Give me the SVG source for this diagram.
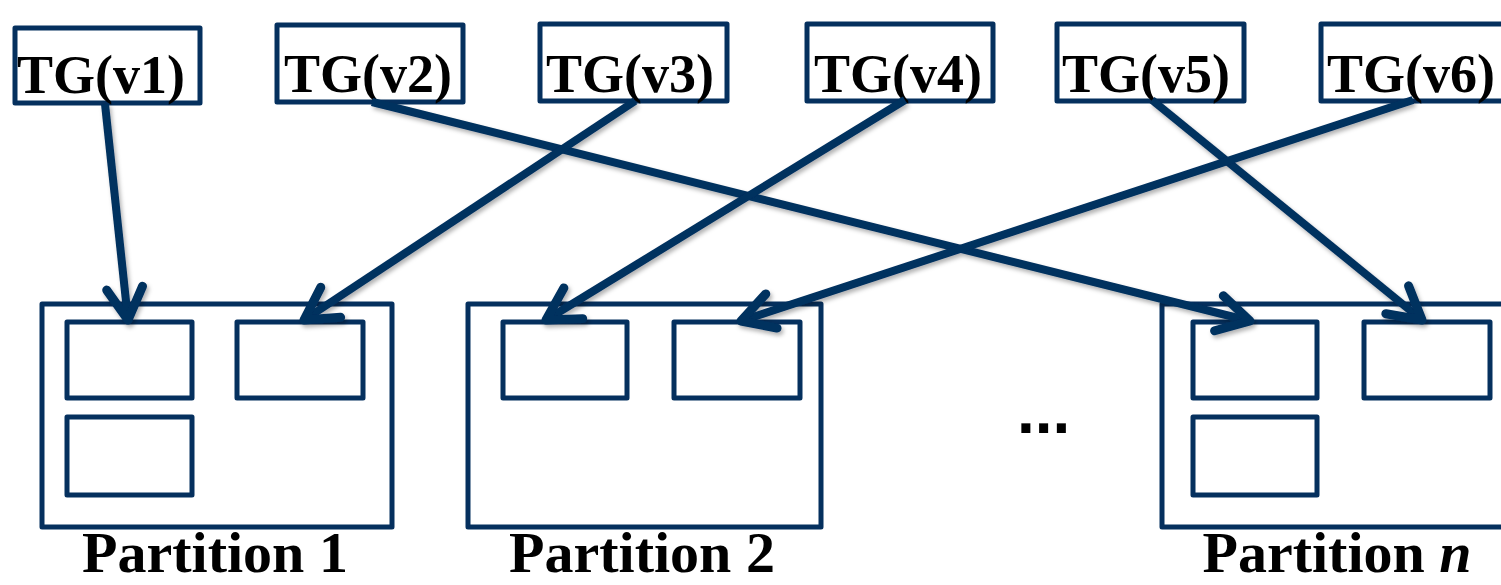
<svg xmlns="http://www.w3.org/2000/svg" width="1501" height="585" viewBox="0 0 1501 585">
<defs>
<style>
.box{fill:#fff;stroke:#05305e;stroke-width:5;stroke-linejoin:round}
.tg{font-family:"Liberation Serif","Times New Roman",serif;font-weight:bold;font-size:54px;fill:#000}
.lbl{font-family:"Liberation Serif","Times New Roman",serif;font-weight:bold;font-size:58px;fill:#000;text-anchor:middle}
.conn{stroke:#05305e;stroke-width:8;fill:none;marker-end:url(#arr)}
</style>
<marker id="arr" markerUnits="userSpaceOnUse" markerWidth="60" markerHeight="60" refX="0" refY="0" orient="auto" viewBox="-40 -30 60 60" overflow="visible">
<path d="M -32 -18 L 0 0 L -32 18" fill="none" stroke="#05305e" stroke-width="9" stroke-linecap="round" stroke-linejoin="round"/>
</marker>
<filter id="sh" x="-10%" y="-10%" width="120%" height="120%">
<feDropShadow dx="2" dy="3" stdDeviation="2" flood-color="#000" flood-opacity="0.3"/>
</filter>
</defs>
<rect width="1501" height="585" fill="#fff"/>

<g id="tg1"><rect class="box" x="15" y="28" width="185" height="75"/><text class="tg" x="17" y="93">TG(v1)</text></g>
<g id="tg2"><rect class="box" x="277" y="25" width="186" height="77"/><text class="tg" x="284" y="92">TG(v2)</text></g>
<g id="tg3"><rect class="box" x="540" y="24" width="187" height="77"/><text class="tg" x="546" y="92">TG(v3)</text></g>
<g id="tg4"><rect class="box" x="807" y="24" width="186" height="77"/><text class="tg" x="814" y="92">TG(v4)</text></g>
<g id="tg5"><rect class="box" x="1057" y="24" width="187" height="77"/><text class="tg" x="1062" y="92">TG(v5)</text></g>
<g id="tg6"><rect class="box" x="1321" y="24" width="190" height="77"/><text class="tg" x="1327" y="92">TG(v6)</text></g>

<g id="partition1">
<rect class="box" x="42" y="304" width="350" height="223"/>
<rect class="box" x="67" y="322" width="125" height="76"/>
<rect class="box" x="237" y="322" width="126" height="76"/>
<rect class="box" x="67" y="417" width="125" height="78"/>
<text class="lbl" x="215" y="572">Partition 1</text>
</g>
<g id="partition2">
<rect class="box" x="468" y="304" width="353" height="223"/>
<rect class="box" x="503" y="322" width="124" height="76"/>
<rect class="box" x="674" y="322" width="126" height="76"/>
<text class="lbl" x="642" y="572">Partition 2</text>
</g>
<g id="partitionN">
<rect class="box" x="1162" y="304" width="350" height="223"/>
<rect class="box" x="1193" y="322" width="124" height="76"/>
<rect class="box" x="1364" y="322" width="126" height="76"/>
<rect class="box" x="1193" y="417" width="124" height="78"/>
<text class="lbl" x="1337" y="572">Partition <tspan font-style="italic">n</tspan></text>
</g>
<g id="ellipsis"><text x="1017" y="433" font-family="Liberation Sans, Arial, sans-serif" font-weight="bold" font-size="64" fill="#000">...</text></g>

<g id="connectors" filter="url(#sh)">
<line class="conn" x1="105" y1="104" x2="128" y2="320"/>
<line class="conn" x1="372" y1="102" x2="1250" y2="321"/>
<line class="conn" x1="635" y1="101" x2="304" y2="320"/>
<line class="conn" x1="905" y1="100" x2="546" y2="320"/>
<line class="conn" x1="1152" y1="100" x2="1422" y2="320"/>
<line class="conn" x1="1413" y1="100" x2="741" y2="321"/>
</g>
</svg>
